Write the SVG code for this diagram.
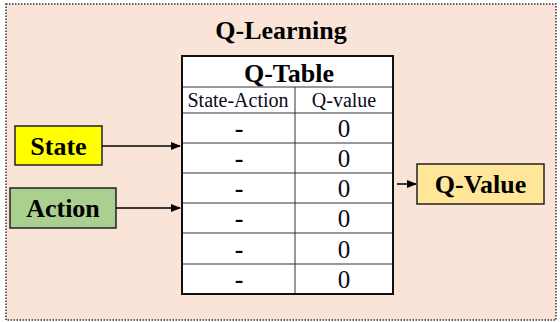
<svg xmlns="http://www.w3.org/2000/svg" width="560" height="322" viewBox="0 0 560 322">
<defs>
<style>
.bold{font-family:"Liberation Serif","Times New Roman",serif;font-weight:bold;fill:#000}
.reg{font-family:"Liberation Serif","Times New Roman",serif;fill:#0a0a1a}
.box{stroke:#222;stroke-width:1.5}
.grid{stroke:#333;stroke-width:1}
.conn{stroke:#000;stroke-width:1.5;fill:none}
</style>
<marker id="ah" markerWidth="10" markerHeight="8" refX="9" refY="4" orient="auto" markerUnits="userSpaceOnUse">
<path d="M0,0 L10,4 L0,8 Z" fill="#000"/>
</marker>
</defs>
<rect x="6" y="4" width="550" height="316" fill="#FAE4D7" stroke="#333" stroke-width="1.5" stroke-dasharray="1.5,1.5"/>
<text class="bold" x="281" y="39" font-size="26" text-anchor="middle">Q-Learning</text>
<g id="qtable">
<rect x="182" y="56" width="211" height="238" fill="#fff"/>
<line class="grid" x1="182" y1="87" x2="393" y2="87"/>
<line class="grid" x1="182" y1="113" x2="393" y2="113"/>
<line class="grid" x1="182" y1="143" x2="393" y2="143"/>
<line class="grid" x1="182" y1="173" x2="393" y2="173"/>
<line class="grid" x1="182" y1="203" x2="393" y2="203"/>
<line class="grid" x1="182" y1="233" x2="393" y2="233"/>
<line class="grid" x1="182" y1="264" x2="393" y2="264"/>
<line class="grid" x1="295" y1="87" x2="295" y2="294"/>
<rect x="182" y="56" width="211" height="238" fill="none" stroke="#111" stroke-width="2"/>
<text class="bold" x="289" y="82" font-size="26" text-anchor="middle">Q-Table</text>
<text class="reg" x="238" y="107" font-size="20" text-anchor="middle">State-Action</text>
<text class="reg" x="344" y="107" font-size="20" text-anchor="middle">Q-value</text>
<g class="bold" font-size="26" text-anchor="middle">
<text x="239" y="137">-</text><text x="239" y="167">-</text><text x="239" y="197">-</text><text x="239" y="227">-</text><text x="239" y="258">-</text><text x="239" y="288">-</text>
</g>
<g class="reg" font-size="25" text-anchor="middle">
<text x="344" y="137">0</text><text x="344" y="167">0</text><text x="344" y="197">0</text><text x="344" y="227">0</text><text x="344" y="258">0</text><text x="344" y="288">0</text>
</g>
</g>
<g id="state">
<rect class="box" x="15" y="126" width="87" height="39" fill="#FFFF00"/>
<text class="bold" x="58.5" y="155" font-size="26" text-anchor="middle">State</text>
</g>
<g id="action">
<rect class="box" x="10" y="188" width="106" height="40" fill="#A9D08E"/>
<text class="bold" x="63" y="217" font-size="26" text-anchor="middle">Action</text>
</g>
<g id="qvalue">
<rect class="box" x="417" y="164" width="127" height="40" fill="#FFE699"/>
<text class="bold" x="480.5" y="193" font-size="26" text-anchor="middle">Q-Value</text>
</g>
<g id="connectors">
<line class="conn" x1="102" y1="146" x2="180" y2="146" marker-end="url(#ah)"/>
<line class="conn" x1="116" y1="208" x2="180" y2="208" marker-end="url(#ah)"/>
<line class="conn" x1="397" y1="184" x2="416" y2="184" marker-end="url(#ah)"/>
</g>
</svg>
